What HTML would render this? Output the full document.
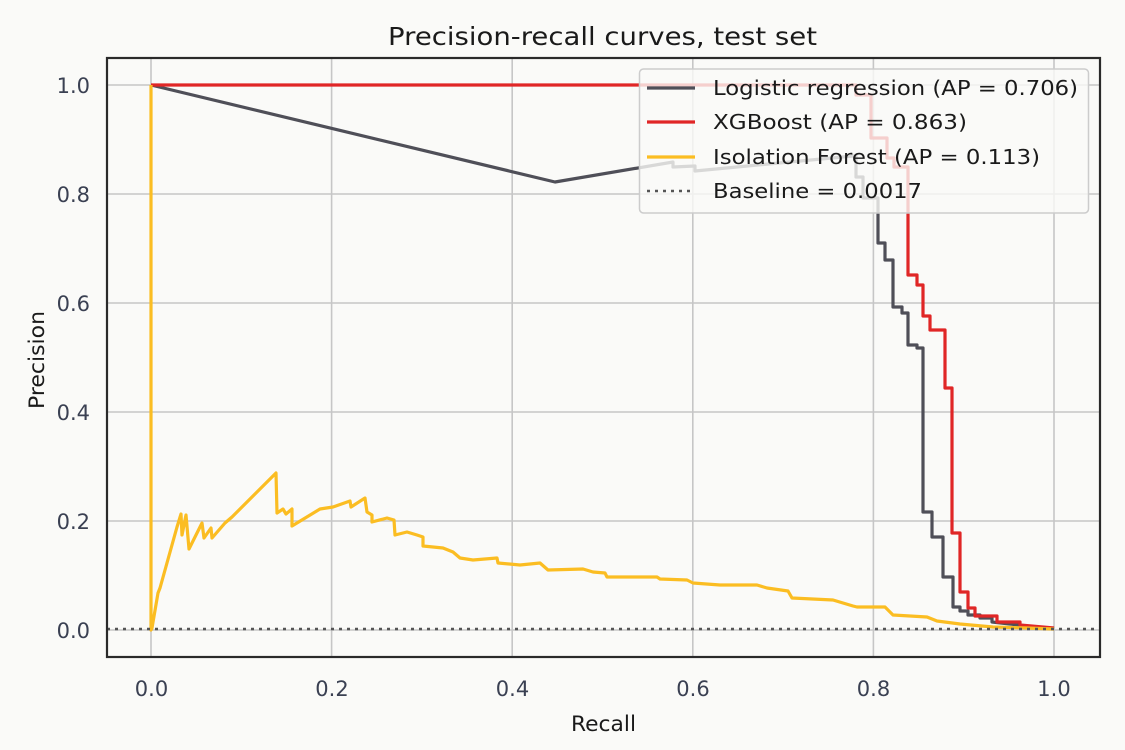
<!DOCTYPE html>
<html>
<head>
<meta charset="utf-8">
<style>
html,body{margin:0;padding:0;background:#fafaf8;}
svg{display:block;}
text{font-family:"DejaVu Sans","Liberation Sans",sans-serif;}
</style>
</head>
<body>
<svg width="1125" height="750" viewBox="0 0 1125 750" xmlns="http://www.w3.org/2000/svg">
<rect x="0" y="0" width="1125" height="750" fill="#fafaf8"/>
<!-- grid -->
<g stroke="#c6c6c6" stroke-width="1.6">
<line x1="151" y1="58" x2="151" y2="657"/>
<line x1="331.6" y1="58" x2="331.6" y2="657"/>
<line x1="512.2" y1="58" x2="512.2" y2="657"/>
<line x1="692.8" y1="58" x2="692.8" y2="657"/>
<line x1="873.4" y1="58" x2="873.4" y2="657"/>
<line x1="1054" y1="58" x2="1054" y2="657"/>
<line x1="107" y1="630" x2="1100" y2="630"/>
<line x1="107" y1="521" x2="1100" y2="521"/>
<line x1="107" y1="412" x2="1100" y2="412"/>
<line x1="107" y1="303" x2="1100" y2="303"/>
<line x1="107" y1="194" x2="1100" y2="194"/>
<line x1="107" y1="85" x2="1100" y2="85"/>
</g>
<!-- logistic -->
<polyline fill="none" stroke="#4f4f58" stroke-width="3.2" stroke-linejoin="round" points="151,85 555,182 673,162 673,167 695,166 695,171 853,156 856,156 856,177 863,177 863,198 878,198 878,243 885,243 885,260 893,260 893,307 902,307 902,313 908,313 908,345 917,345 917,348 923,348 923,512 932,512 932,537 943,537 943,577 953,577 953,607 960,607 960,611 968,611 968,615 980,615 980,618 992,618 992,622 1010,624 1054,629"/>
<!-- xgboost -->
<polyline fill="none" stroke="#e02626" stroke-width="3.2" stroke-linejoin="round" points="151,85 856,85 856,95 871,95 871,138 887,138 887,158 894,158 894,167 908,167 908,275 917,275 917,285 923,285 923,316 930,316 930,330 945,330 945,388 952,388 952,533 960,533 960,592 968,592 968,608 975,608 975,616 997,616 997,622 1020,622 1020,625 1054,628"/>
<!-- isolation forest -->
<polyline fill="none" stroke="#fbbd22" stroke-width="3.2" stroke-linejoin="round" points="151,85 151,630 152,628 158,593 160,588 177,527 181,514 182,535 186,515 189,549 202,523 204,538 211,528 212,538 225,523 232,517 276,473 277,513 283,509 286,514 292,509 292,526 320,509 333,507 350,501 351,507 365,498 367,512 372,515 372,522 387,518 394,520 395,535 407,532 417,535 423,537 423,546 433,547 443,548 453,552 460,558 473,560 497,558 498,563 520,565 540,563 548,570 583,569 593,572 605,573 607,577 633,577 657,577 660,579 687,580 693,583 720,585 757,585 767,588 788,591 792,598 833,600 853,606 857,607 885,607 893,615 927,617 937,621 960,624 993,627 1027,628 1054,629"/>
<!-- baseline -->
<line x1="107" y1="629" x2="1100" y2="629" stroke="#555" stroke-width="2.6" stroke-dasharray="3 5"/>
<!-- frame -->
<rect x="107" y="58" width="993" height="599" fill="none" stroke="#2a2a2a" stroke-width="2.2"/>
<!-- legend -->
<rect x="639.5" y="69" width="449" height="144" rx="4" ry="4" fill="#fafaf8" fill-opacity="0.8" stroke="#cccccc" stroke-width="1.5"/>
<line x1="647" y1="88" x2="695" y2="88" stroke="#4f4f58" stroke-width="3.2"/>
<line x1="647" y1="122" x2="695" y2="122" stroke="#e02626" stroke-width="3.2"/>
<line x1="647" y1="157" x2="695" y2="157" stroke="#fbbd22" stroke-width="3.2"/>
<line x1="647" y1="191" x2="695" y2="191" stroke="#555" stroke-width="2.6" stroke-dasharray="3 5"/>
<g fill="#1a1a1a" font-size="20.5">
<text x="713" y="95" textLength="365" lengthAdjust="spacingAndGlyphs">Logistic regression (AP = 0.706)</text>
<text x="713" y="129" textLength="254" lengthAdjust="spacingAndGlyphs">XGBoost (AP = 0.863)</text>
<text x="713" y="164" textLength="327" lengthAdjust="spacingAndGlyphs">Isolation Forest (AP = 0.113)</text>
<text x="713" y="198" textLength="209" lengthAdjust="spacingAndGlyphs">Baseline = 0.0017</text>
</g>
<!-- y tick labels -->
<g fill="#3a4052" font-size="21" text-anchor="end">
<text x="90" y="93">1.0</text>
<text x="90" y="202">0.8</text>
<text x="90" y="311">0.6</text>
<text x="90" y="420">0.4</text>
<text x="90" y="529">0.2</text>
<text x="90" y="638">0.0</text>
</g>
<!-- x tick labels -->
<g fill="#3a4052" font-size="21" text-anchor="middle">
<text x="151.5" y="696">0.0</text>
<text x="332" y="696">0.2</text>
<text x="512.5" y="696">0.4</text>
<text x="693" y="696">0.6</text>
<text x="873.5" y="696">0.8</text>
<text x="1054" y="696">1.0</text>
</g>
<!-- axis labels -->
<text x="571" y="731" font-size="21" fill="#1a1a1a" textLength="65" lengthAdjust="spacingAndGlyphs">Recall</text>
<text transform="translate(44,409) rotate(-90)" x="0" y="0" font-size="21" fill="#1a1a1a" textLength="98" lengthAdjust="spacingAndGlyphs">Precision</text>
<!-- title -->
<text x="388" y="45" font-size="25" fill="#1a1a1a" textLength="429" lengthAdjust="spacingAndGlyphs">Precision-recall curves, test set</text>
</svg>
</body>
</html>
